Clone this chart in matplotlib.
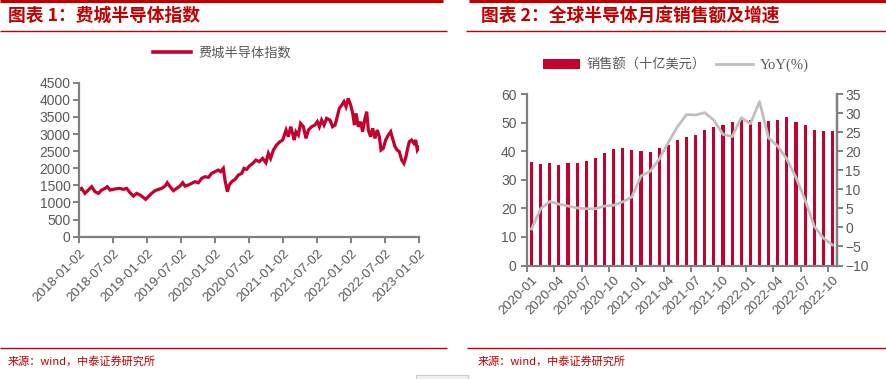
import matplotlib
matplotlib.use('Agg')
import matplotlib.pyplot as plt
from matplotlib.lines import Line2D
from matplotlib.patches import Rectangle
import numpy as np
import pandas as pd

plt.rcParams['font.family'] = ['Liberation Sans', 'Noto Sans CJK SC', 'DejaVu Sans']
CJK = ['Noto Sans CJK SC', 'DejaVu Sans']

# ---- chart 1: SOX index ----
sox_dates = [
    '2018-01-02', '2018-01-16', '2018-02-03', '2018-02-21', '2018-03-11', '2018-03-29',
    '2018-04-16', '2018-05-04', '2018-05-22', '2018-06-03', '2018-06-17', '2018-07-05',
    '2018-07-23', '2018-08-10', '2018-08-28', '2018-09-15', '2018-10-03', '2018-10-21',
    '2018-11-08', '2018-11-26', '2018-12-13', '2018-12-26', '2019-01-09', '2019-01-27',
    '2019-02-14', '2019-03-04', '2019-03-22', '2019-04-09', '2019-04-21', '2019-05-06',
    '2019-05-24', '2019-06-10', '2019-06-28', '2019-07-13', '2019-07-25', '2019-08-12',
    '2019-08-30', '2019-09-17', '2019-10-05', '2019-10-23', '2019-11-10', '2019-11-28',
    '2019-12-15', '2020-01-02', '2020-01-20', '2020-02-02', '2020-02-16', '2020-02-25',
    '2020-03-09', '2020-03-19', '2020-04-01', '2020-04-19', '2020-05-07', '2020-05-25',
    '2020-06-06', '2020-06-20', '2020-07-05', '2020-07-23', '2020-08-09', '2020-08-27',
    '2020-09-14', '2020-10-02', '2020-10-15', '2020-10-27', '2020-11-11', '2020-11-28',
    '2020-12-16', '2020-12-31', '2021-01-09', '2021-01-18', '2021-01-30', '2021-02-12',
    '2021-02-22', '2021-03-03', '2021-03-12', '2021-03-25', '2021-04-06', '2021-04-21',
    '2021-05-05', '2021-05-18', '2021-06-04', '2021-06-22', '2021-07-05', '2021-07-16',
    '2021-07-28', '2021-08-10', '2021-08-24', '2021-09-11', '2021-09-25', '2021-10-08',
    '2021-10-20', '2021-10-31', '2021-11-13', '2021-11-25', '2021-12-06', '2021-12-18',
    '2021-12-31', '2022-01-11', '2022-01-20', '2022-01-29', '2022-02-10', '2022-02-23',
    '2022-03-05', '2022-03-18', '2022-03-27', '2022-04-05', '2022-04-17', '2022-04-28',
    '2022-05-11', '2022-05-23', '2022-06-03', '2022-06-12', '2022-06-24', '2022-07-07',
    '2022-07-21', '2022-08-03', '2022-08-13', '2022-08-26', '2022-09-07', '2022-09-18',
    '2022-10-01', '2022-10-13', '2022-10-24', '2022-11-02', '2022-11-11', '2022-11-23',
    '2022-12-06', '2022-12-15', '2022-12-24', '2023-01-02',
]
sox_values = [
    1364, 1412, 1266, 1364, 1461, 1315,
    1266, 1364, 1412, 1461, 1364, 1383,
    1402, 1412, 1383, 1412, 1286, 1188,
    1266, 1217, 1149, 1091, 1169, 1266,
    1344, 1383, 1412, 1480, 1578, 1461,
    1344, 1412, 1480, 1578, 1480, 1510,
    1558, 1607, 1578, 1705, 1753, 1734,
    1850, 1899, 1948, 1899, 1997, 1656,
    1315, 1510, 1607, 1675, 1802, 1850,
    1997, 1967, 2065, 2143, 2240, 2191,
    2289, 2162, 2435, 2289, 2532, 2678,
    2776, 2825, 2971, 3117, 2922, 3214,
    3020, 2825, 3068, 2971, 3311, 3214,
    2873, 3117, 3214, 3263, 3360, 3214,
    3409, 3263, 3458, 3409, 3214, 3263,
    3507, 3750, 3847, 3945, 3799, 4042,
    3847, 3604, 3263, 3604, 3214, 3360,
    3068, 3458, 3653, 3117, 2922, 3166,
    2873, 3117, 2922, 2532, 2581, 2825,
    2971, 3068, 2873, 2629, 2532, 2483,
    2240, 2143, 2337, 2581, 2776, 2825,
    2727, 2825, 2532, 2610,
]
sox_ticks = ['2018-01-02', '2018-07-02', '2019-01-02', '2019-07-02', '2020-01-02',
             '2020-07-02', '2021-01-02', '2021-07-02', '2022-01-02', '2022-07-02',
             '2023-01-02']

# ---- chart 2: global semiconductor monthly sales ----
months = list(pd.period_range('2020-01', '2022-10', freq='M').strftime('%Y-%m'))
sales = [36.1, 35.4, 35.8, 35.1, 35.8, 35.8, 36.5, 37.5, 39.3, 40.7, 41.1, 40.4,
         40.0, 39.6, 41.1, 42.1, 43.9, 44.9, 45.6, 47.4, 48.4, 49.1, 50.2, 50.8,
         51.0, 50.2, 50.5, 51.0, 51.9, 50.2, 49.1, 47.4, 47.0, 47.0]
yoy = [-0.4, 4.9, 6.8, 6.1, 5.6, 5.1, 4.9, 4.9, 5.6, 5.8, 6.7, 8.0,
       13.5, 14.7, 17.9, 22.3, 26.4, 29.6, 29.5, 30.1, 28.1, 24.4, 23.8, 28.8,
       27.2, 33.0, 23.5, 21.3, 17.9, 13.1, 7.2, 0.3, -2.8, -4.6]

RED = '#C00000'
LINE_RED = '#C4002F'
AXC = '#7F7F7F'
TXT = '#595959'
W, H = 887, 379

fig = plt.figure(figsize=(W / 100, H / 100), dpi=100)


def fx(px):
    return px / W


def fy(py):
    return 1 - py / H


def hline(x0, x1, y, lw, color=RED):
    fig.add_artist(Line2D([fx(x0), fx(x1)], [fy(y), fy(y)], transform=fig.transFigure,
                          color=color, linewidth=lw, solid_capstyle='butt'))


# frame lines
hline(0, 443, 1.2, 2.2)
hline(469, 887, 1.2, 2.2)
hline(0, 447, 30.5, 1.0)
hline(466, 887, 30.5, 1.0)
hline(0, 447, 348, 1.0)
hline(467, 887, 348, 1.0)

fig.text(fx(8), fy(16), '图表 1：费城半导体指数', color=RED, fontsize=12.8, fontweight='bold',
         family=CJK, va='center', ha='left')
fig.text(fx(481), fy(16), '图表 2：全球半导体月度销售额及增速', color=RED, fontsize=12.8,
         fontweight='bold', family=CJK, va='center', ha='left')
fig.text(fx(8), fy(361), '来源：wind，中泰证券研究所', color=RED, fontsize=8, family=CJK,
         va='center', ha='left')
fig.text(fx(478), fy(361), '来源：wind，中泰证券研究所', color=RED, fontsize=8, family=CJK,
         va='center', ha='left')
fig.add_artist(Rectangle((fx(416), 0), fx(52), 4 / H, transform=fig.transFigure,
                         facecolor='#F2F2F2', edgecolor='#C8C8C8', linewidth=0.8))


def style_axis(ax, spines):
    for s in ['left', 'right', 'top', 'bottom']:
        ax.spines[s].set_visible(s in spines)
        ax.spines[s].set_color(AXC)
        ax.spines[s].set_linewidth(1.6)
    ax.tick_params(axis='both', colors=AXC, labelcolor=TXT, width=1.4, length=4,
                   direction='out', labelsize=9.5)
    ax.set_facecolor('none')


# ---- left chart ----
ax1 = fig.add_axes([fx(79), fy(236.7), fx(340), 154 / H])
d = pd.to_datetime(sox_dates)
ax1.plot(d, sox_values, color=LINE_RED, linewidth=2.3, label='费城半导体指数',
         solid_joinstyle='miter')
ax1.set_xlim(pd.Timestamp('2018-01-02'), pd.Timestamp('2023-01-02'))
ax1.set_ylim(0, 4500)
ax1.set_yticks(np.arange(0, 4501, 500))
tk = pd.to_datetime(sox_ticks)
ax1.set_xticks(tk)
ax1.set_xticklabels(sox_ticks, rotation=45, ha='right', va='top', rotation_mode='anchor')
style_axis(ax1, ['left', 'bottom'])
ax1.tick_params(axis='y', pad=2, labelsize=10)
leg1 = ax1.legend(loc='center', bbox_to_anchor=(fx(222), fy(53)),
                  bbox_transform=fig.transFigure, frameon=False, handlelength=2.9,
                  handletextpad=0.5, prop={'family': CJK, 'size': 9.5})
leg1.get_lines()[0].set_linewidth(2.6)
for t in leg1.get_texts():
    t.set_color(TXT)

# ---- right chart ----
ax2 = fig.add_axes([fx(527), fy(265.5), fx(310), 171.5 / H])
x = np.arange(len(months))
bars = ax2.bar(x, sales, width=0.34, color=LINE_RED, label='销售额（十亿美元）')
ax2.set_xlim(-0.5, len(months) - 0.5)
ax2.set_ylim(0, 60)
ax2.set_yticks(np.arange(0, 61, 10))
ax2.set_xticks(np.arange(-0.5, len(months) - 0.5, 3))
ax2.set_xticklabels([])
ax2.set_xticks(x[::3], minor=True)
ax2.set_xticklabels(months[::3], minor=True, rotation=45, ha='right', va='top',
                    rotation_mode='anchor')
style_axis(ax2, ['left', 'bottom', 'right'])
ax2.tick_params(axis='x', which='minor', length=0, labelsize=9.5, labelcolor=TXT, pad=6)
ax2.tick_params(axis='y', labelsize=10)

ax3 = ax2.twinx()
line, = ax3.plot(x, yoy, color='#BFBFBF', linewidth=2.0, label='YoY(%)')
ax3.set_ylim(-10, 35)
ax3.set_yticks(np.arange(-10, 36, 5))
style_axis(ax3, ['right'])
ax3.tick_params(axis='y', pad=2, labelsize=10)

leg2 = fig.legend(handles=[bars, line], loc='center', bbox_to_anchor=(fx(676), fy(65)),
                  ncol=2, frameon=False, handlelength=2.8, handleheight=0.9,
                  handletextpad=0.5, columnspacing=0.8, prop={'family': CJK, 'size': 9.5})
for t in leg2.get_texts():
    t.set_color(TXT)
leg2.get_texts()[1].set_family(['Liberation Serif'])
leg2.get_texts()[1].set_fontsize(10.5)

plt.savefig('out.png', dpi=100)
